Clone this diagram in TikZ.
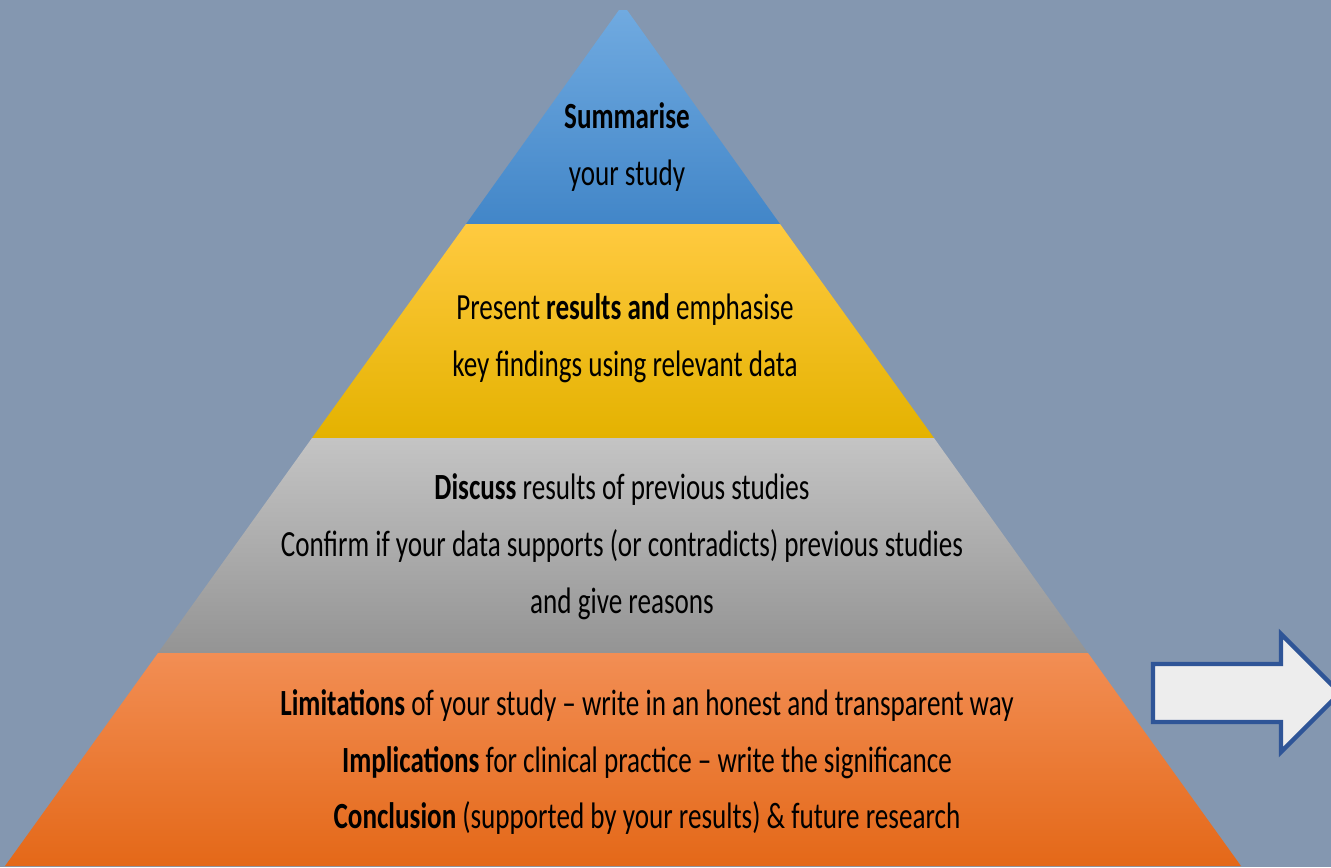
\documentclass[tikz,border=0pt]{standalone}
\usepackage{fontspec}
\setmainfont{Carlito}[FakeStretch=0.735]
\usetikzlibrary{positioning}

\definecolor{bgblue}{RGB}{132,151,176}
\definecolor{blueA}{RGB}{112,170,224}
\definecolor{blueB}{RGB}{66,134,200}
\definecolor{yellowA}{RGB}{255,202,64}
\definecolor{yellowB}{RGB}{228,178,0}
\definecolor{grayA}{RGB}{196,196,196}
\definecolor{grayB}{RGB}{148,148,148}
\definecolor{orangeA}{RGB}{242,142,84}
\definecolor{orangeB}{RGB}{228,104,24}
\definecolor{arrowfill}{RGB}{237,237,237}
\definecolor{arrowline}{RGB}{47,85,151}

\tikzset{
	lbl/.style={align=center, text=black, inner sep=0pt,
		font=\fontsize{21}{32.4}\selectfont},
}

\begin{document}
\begin{tikzpicture}[x=0.02cm, y=-0.02cm]
	\fill[bgblue] (0,0) rectangle (1331,867);
	\useasboundingbox (0,0) rectangle (1331,867);

	% the four layers, top to bottom
	\shade[top color=blueA, bottom color=blueB]
		(619,10) -- (627,10) -- (780,224) -- (466,224) -- cycle;
	\shade[top color=yellowA, bottom color=yellowB]
		(466,224) -- (780,224) -- (934,438) -- (312,438) -- cycle;
	\shade[top color=grayA, bottom color=grayB]
		(312,438) -- (934,438) -- (1088,653) -- (158,653) -- cycle;
	\shade[top color=orangeA, bottom color=orangeB]
		(158,653) -- (1088,653) -- (1241,866) -- (5,866) -- cycle;

	% texts
	\node[lbl] (l1) at (627,147) {\textbf{Summarise}\\your study};
	\node[lbl] (l2) at (625,338) {Present \textbf{results and} emphasise\\key findings using relevant data};
	\node[lbl] (l3) at (622,547) {\textbf{Discuss} results of previous studies\\Confirm if your data supports (or contradicts) previous studies\\and give reasons};
	\node[lbl] (l4) at (647,762) {\textbf{Limitations} of your study -- write in an honest and transparent way\\\textbf{Implications} for clinical practice -- write the significance\\\textbf{Conclusion} (supported by your results) \& future research};

	% block arrow on the right
	\draw[arrowline, fill=arrowfill, line width=2.5pt, line join=miter]
		(1153,664) -- (1281,664) -- (1281,634) -- (1340,693)
		-- (1281,752) -- (1281,722) -- (1153,722) -- cycle;
\end{tikzpicture}
\end{document}
